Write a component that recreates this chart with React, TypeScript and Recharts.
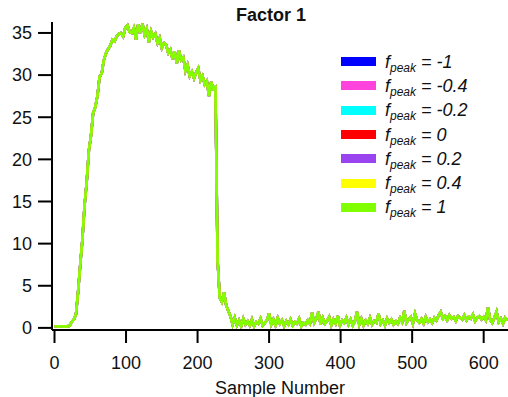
import { LineChart, Line, XAxis, YAxis } from 'recharts';

// one value every 3 samples (sample 0 .. 633)
const sampleStep = 3;
const factor1 = [
  0.2, 0.2, 0.15, 0.2, 0.2, 0.15, 0.2, 0.25, 0.7, 1.0,
  1.6, 4.3, 7.5, 10.5, 14.5, 17.3, 21.0, 22.8, 25.5, 26.2,
  27.5, 29.8, 30.2, 31.8, 32.6, 33.1, 33.5, 34.2, 34.0, 34.6,
  34.9, 35.0, 34.6, 35.6, 35.9, 35.1, 35.0, 35.6, 34.2, 36.0,
  35.0, 36.1, 34.8, 35.5, 33.9, 35.2, 34.5, 34.9, 33.8, 34.4,
  33.2, 33.8, 33.6, 32.6, 33.0, 31.9, 32.8, 31.4, 32.9, 31.8,
  32.1, 30.5, 31.2, 29.9, 30.4, 29.6, 30.3, 30.8, 29.4, 29.9,
  28.9, 29.3, 27.5, 29.2, 28.4, 28.6, 8.0, 3.6, 3.1, 4.2,
  2.7, 2.0, 1.4, 0.4, 1.2, 0.3, 0.9, 0.2, 1.1, 0.4,
  0.8, 0.3, 1.0, 0.2, 0.7, 0.5, 1.1, 0.3, 0.6, 0.9,
  1.7, 0.4, 1.0, 0.3, 1.2, 0.5, 0.9, 0.2, 0.8, 0.4,
  1.0, 0.3, 0.7, 0.5, 1.1, 0.2, 0.6, 0.4, 0.9, 0.5,
  1.8, 0.6, 1.1, 1.9, 0.4, 1.2, 0.5, 0.8, 1.3, 0.3,
  1.0, 0.5, 1.4, 0.3, 0.9, 0.6, 1.2, 0.4, 1.0, 0.3,
  0.8, 1.9, 0.4, 1.1, 0.3, 0.9, 0.5, 1.2, 0.4, 0.8,
  0.6, 1.7, 0.5, 0.9, 0.3, 1.1, 0.6, 1.0, 0.4, 0.8,
  0.5, 1.2, 0.7, 2.0, 0.6, 1.0, 1.3, 0.5, 1.7, 0.9,
  0.6, 1.1, 0.5, 1.3, 0.7, 1.0, 0.6, 1.2, 0.9, 1.5,
  1.9, 1.1, 1.4, 0.9, 1.5, 1.1, 1.3, 0.8, 1.4, 1.2,
  1.0, 1.5, 0.9, 1.3, 1.1, 1.6, 0.8, 1.2, 1.4, 1.0,
  1.3, 0.9, 2.4, 1.0, 0.6, 1.2, 1.9, 0.7, 1.1, 0.5,
  1.2, 0.9,
];

// the seven runs sit on top of each other in the picture
const fpeakValues = ['-1', '-0.4', '-0.2', '0', '0.2', '0.4', '1'];
const fpeakColors = ['#0000FF', '#FF44DD', '#00FFFF', '#FF0000', '#9944EE', '#FFFF00', '#80FF00'];

const xTicks = [0, 100, 200, 300, 400, 500, 600];
const yTicks = [0, 5, 10, 15, 20, 25, 30, 35];

const data = factor1.map((v, i) => {
  const row: any = { sample: i * sampleStep };
  fpeakValues.forEach((_, k) => { row[`run${k}`] = v; });
  return row;
});

const FONT = '"Liberation Sans", Arial, sans-serif';
const tickStyle = { fontSize: 18, fill: '#111', fontFamily: FONT };

export default function App() {
  return (
    <div style={{ position: 'relative', width: 508, height: 397, background: '#fff', fontFamily: FONT }}>
      <style>{'body{margin:0}'}</style>
      <LineChart width={508} height={397} data={data} margin={{ top: 22, right: 0, left: 0, bottom: 0 }}>
        <XAxis
          dataKey="sample"
          type="number"
          domain={[-3.5, 634]}
          allowDataOverflow
          ticks={xTicks}
          height={67}
          tickSize={13}
          tickMargin={13}
          axisLine={{ stroke: '#000', strokeWidth: 2 }}
          tickLine={{ stroke: '#000', strokeWidth: 2 }}
          tick={tickStyle}
          label={{ value: 'Sample Number', position: 'insideBottom', offset: 3, fontSize: 18, fill: '#111', fontFamily: FONT }}
        />
        <YAxis
          type="number"
          domain={[-0.25, 36.3]}
          allowDataOverflow
          ticks={yTicks}
          width={52}
          tickSize={14}
          tickMargin={6}
          axisLine={{ stroke: '#000', strokeWidth: 2 }}
          tickLine={{ stroke: '#000', strokeWidth: 2 }}
          tick={tickStyle}
        />
        {fpeakValues.map((f, k) => (
          <Line
            key={f}
            type="linear"
            dataKey={`run${k}`}
            stroke={fpeakColors[k]}
            strokeWidth={2.5}
            dot={false}
            isAnimationActive={false}
          />
        ))}
      </LineChart>
      <div style={{ position: 'absolute', left: 191, top: 5, width: 160, textAlign: 'center', fontWeight: 700, fontSize: 18, color: '#111', whiteSpace: 'nowrap' }}>
        Factor 1
      </div>
      <div style={{ position: 'absolute', left: 341, top: 49.5 }}>
        {fpeakValues.map((f, k) => (
          <div key={f} style={{ display: 'flex', alignItems: 'center', height: 24.3 }}>
            <span style={{ width: 35, height: 9, background: fpeakColors[k], display: 'inline-block' }} />
            <span style={{ marginLeft: 9, fontStyle: 'italic', fontSize: 18, color: '#111', whiteSpace: 'nowrap', lineHeight: '18px' }}>
              f<span style={{ fontSize: 12, verticalAlign: '-4px', lineHeight: 0 }}>peak</span> = {f}
            </span>
          </div>
        ))}
      </div>
    </div>
  );
}
